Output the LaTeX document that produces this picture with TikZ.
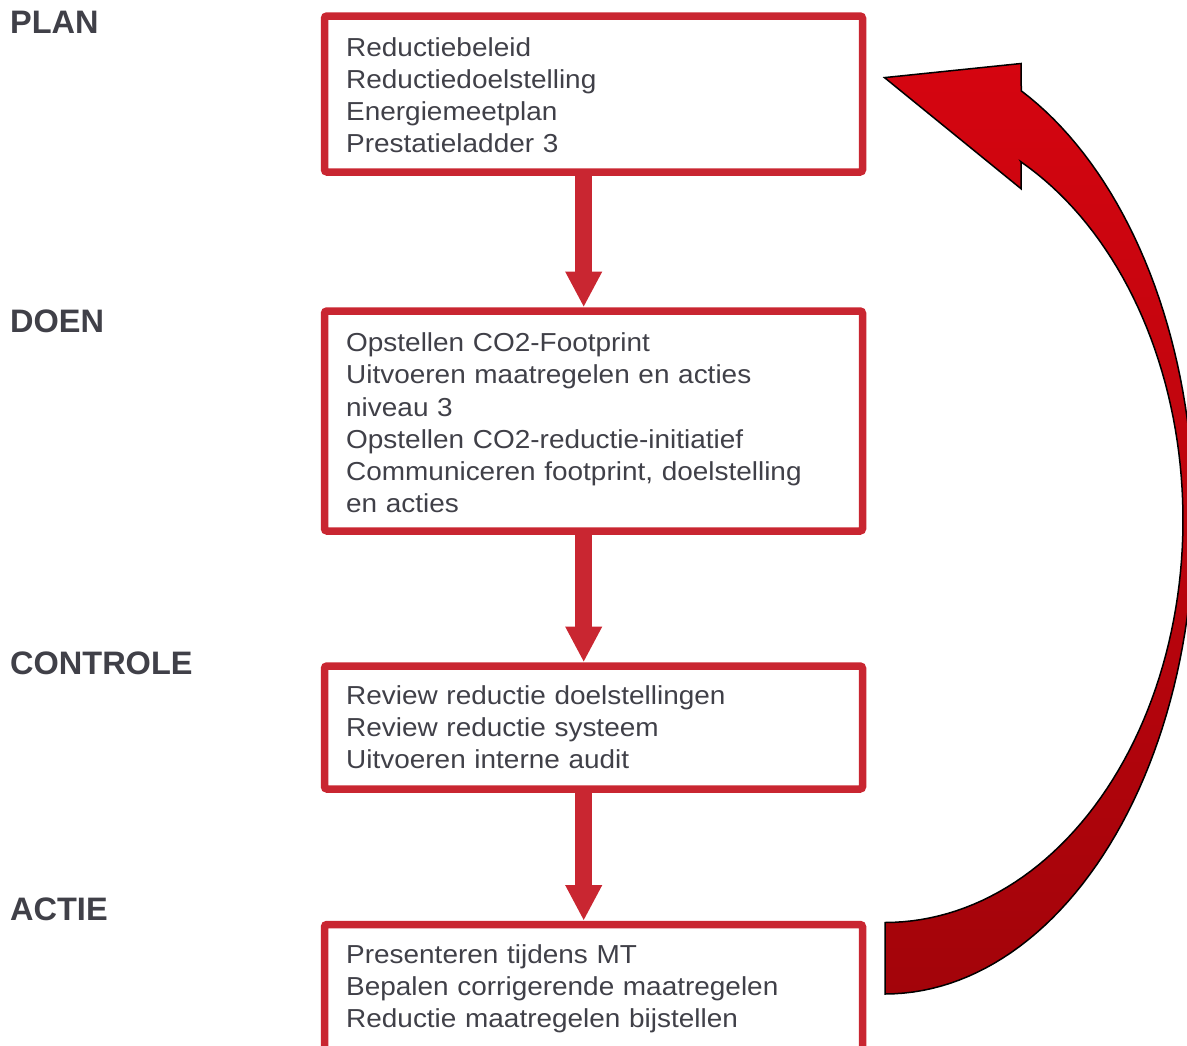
\documentclass[tikz,border=0pt]{standalone}
\usepackage{fontspec}
\setmainfont{Liberation Sans}
\newfontfamily\boxfont[FakeStretch=1.075]{Liberation Sans}
\usetikzlibrary{arrows.meta}
\definecolor{boxred}{RGB}{201,38,49}
\definecolor{arrtop}{RGB}{213,5,16}
\definecolor{arrbot}{RGB}{163,4,10}
\definecolor{txt}{RGB}{64,64,72}
\begin{document}
\begin{tikzpicture}[x=1pt,y=-1pt,
  box/.style={draw=boxred, line width=7.5pt, rounded corners=2.5pt, minimum width=538pt, inner sep=0pt},
  boxtext/.style={anchor=north west, inner sep=0pt, text=txt, text width=520pt, align=left,
    font=\boxfont\fontsize{26}{32.1}\selectfont},
  phase/.style={anchor=base west, inner sep=0pt, text=txt, font=\fontsize{32.5}{39}\selectfont\bfseries},
  conn/.style={draw=boxred, line width=17.3pt, -{Triangle[width=34.3pt,length=35.7pt]}},
  curvearrow/.style={draw=black, line width=1.5pt, line join=miter, top color=arrtop, bottom color=arrbot}]
\useasboundingbox (0,0) rectangle (1187,1045);
\clip (0,0) rectangle (1187,1045);

% boxes
\node[box, minimum height=156pt] (b1) at (593.5,94) {};
\node[box, minimum height=220pt] (b2) at (593.5,421) {};
\node[box, minimum height=123pt] (b3) at (593.5,727.5) {};
\node[box, minimum height=150pt] (b4) at (593.5,999.5) {};

% box texts
\node[boxtext] (t1) at (346,33.6) {\strut Reductiebeleid\\Reductiedoelstelling\\Energiemeetplan\\Prestatieladder 3};
\node[boxtext] (t2) at (346,329.2) {\strut Opstellen CO2-Footprint\\Uitvoeren maatregelen en acties\\niveau 3\\Opstellen CO2-reductie-initiatief\\Communiceren footprint, doelstelling\\en acties};
\node[boxtext] (t3) at (346,681.8) {\strut Review reductie doelstellingen\\Review reductie systeem\\Uitvoeren interne audit};
\node[boxtext] (t4) at (346,940.8) {\strut Presenteren tijdens MT\\Bepalen corrigerende maatregelen\\Reductie maatregelen bijstellen};

% phase labels
\node[phase] (plan) at (10,33.3) {PLAN};
\node[phase] (doen) at (10,332.3) {DOEN};
\node[phase] (controle) at (10,674.3) {CONTROLE};
\node[phase] (actie) at (10,920) {ACTIE};

% connectors
\draw[conn] ([xshift=-9.8pt]b1.south) -- ([xshift=-9.8pt]b2.north);
\draw[conn] ([xshift=-9.8pt]b2.south) -- ([xshift=-9.8pt]b3.north);
\draw[conn] ([xshift=-9.8pt]b3.south) -- ([xshift=-9.8pt]b4.north);

% curved return arrow
\coordinate (cin) at (885,922.5);
\coordinate (cout) at (885,994);
\coordinate (htop) at (1021,63.5);
\coordinate (htip) at (884.5,77.6);
\coordinate (hbot) at (1021,188.7);
\path[curvearrow] (cin) -- (cout)
  -- plot[variable=\u, domain=0:1, samples=90] ({885+309*cos(90-153.9*\u)},{518+476*sin(90-153.9*\u)})
  -- (htop) -- (htip) -- (hbot) -- (1021,161.9)
  -- plot[variable=\u, domain=0:1, samples=90] ({885+298*cos(-62.85+152.85*\u)},{520+402.5*sin(-62.85+152.85*\u)})
  -- cycle;
\end{tikzpicture}
\end{document}
